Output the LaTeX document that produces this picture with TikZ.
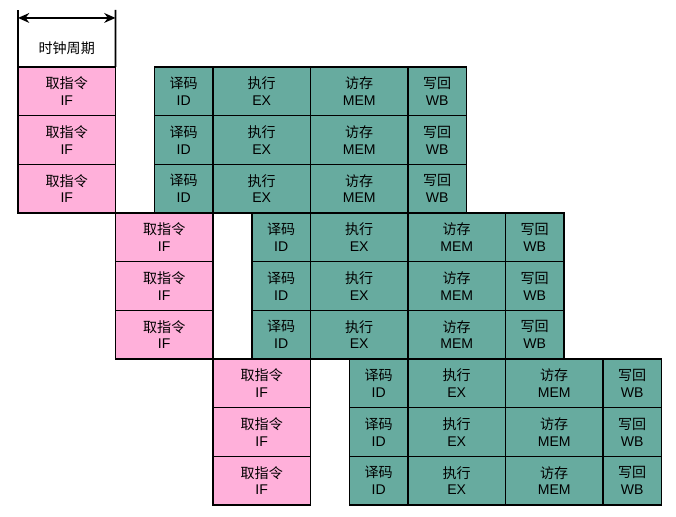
\documentclass[tikz,border=0pt]{standalone}
\usepackage{fontspec}
\setmainfont{Liberation Sans}
\newfontfamily\cjk{Noto Sans CJK SC}
\usetikzlibrary{arrows.meta,positioning,calc}

\definecolor{iffill}{HTML}{FFB0DA}
\definecolor{stagefill}{HTML}{67AB9F}

\begin{document}
\begin{tikzpicture}[
  x=2.4375cm, y=-1.2167cm,
  cell/.style={draw, line width=1.1pt, outer sep=0pt, minimum height=1.2167cm, inner sep=0pt, align=center,
    font=\fontsize{10}{12}\selectfont},
  ifbox/.style={cell, fill=iffill, minimum width=2.4375cm, anchor=north west},
  wide/.style={cell, fill=stagefill, minimum width=2.4375cm},
  narrow/.style={cell, fill=stagefill, minimum width=1.4625cm},
  >={Stealth[length=8pt,width=7pt]}, node distance=0pt
]
  \useasboundingbox (-0.1846,-1.3758) rectangle (6.749,9.240);

  % three groups of three instructions
  \foreach \b in {0,1,2} {
    \foreach \r in {0,1,2} {
      \pgfmathtruncatemacro\i{3*\b+\r}
      \node[ifbox] (if\i) at (\b,\i) {{\cjk 取指令}\\IF};
      \node[narrow, anchor=north west] (id\i) at (\b+1.4,\i) {{\cjk 译码}\\ID};
      \node[wide, right=of id\i] (ex\i) {{\cjk 执行}\\EX};
      \node[wide, right=of ex\i] (mem\i) {{\cjk 访存}\\MEM};
      \node[narrow, right=of mem\i] (wb\i) {{\cjk 写回}\\WB};
    }
  }

  % clock cycle
  \coordinate (clkl) at (0,-1.171);
  \coordinate (clkr) at (1,-1.171);
  \coordinate (arl) at (0,-1.007);
  \coordinate (arr) at (1,-1.007);
  \draw[line width=1.1pt] (if0.north west) -- (clkl);
  \draw[line width=1.1pt] (if0.north east) -- (clkr);
  \draw[<->, line width=1.1pt] (arl) -- (arr);
  \node[font=\cjk\fontsize{10}{12}\selectfont] (clk) at (0.5,-0.39) {时钟周期};
\end{tikzpicture}
\end{document}
